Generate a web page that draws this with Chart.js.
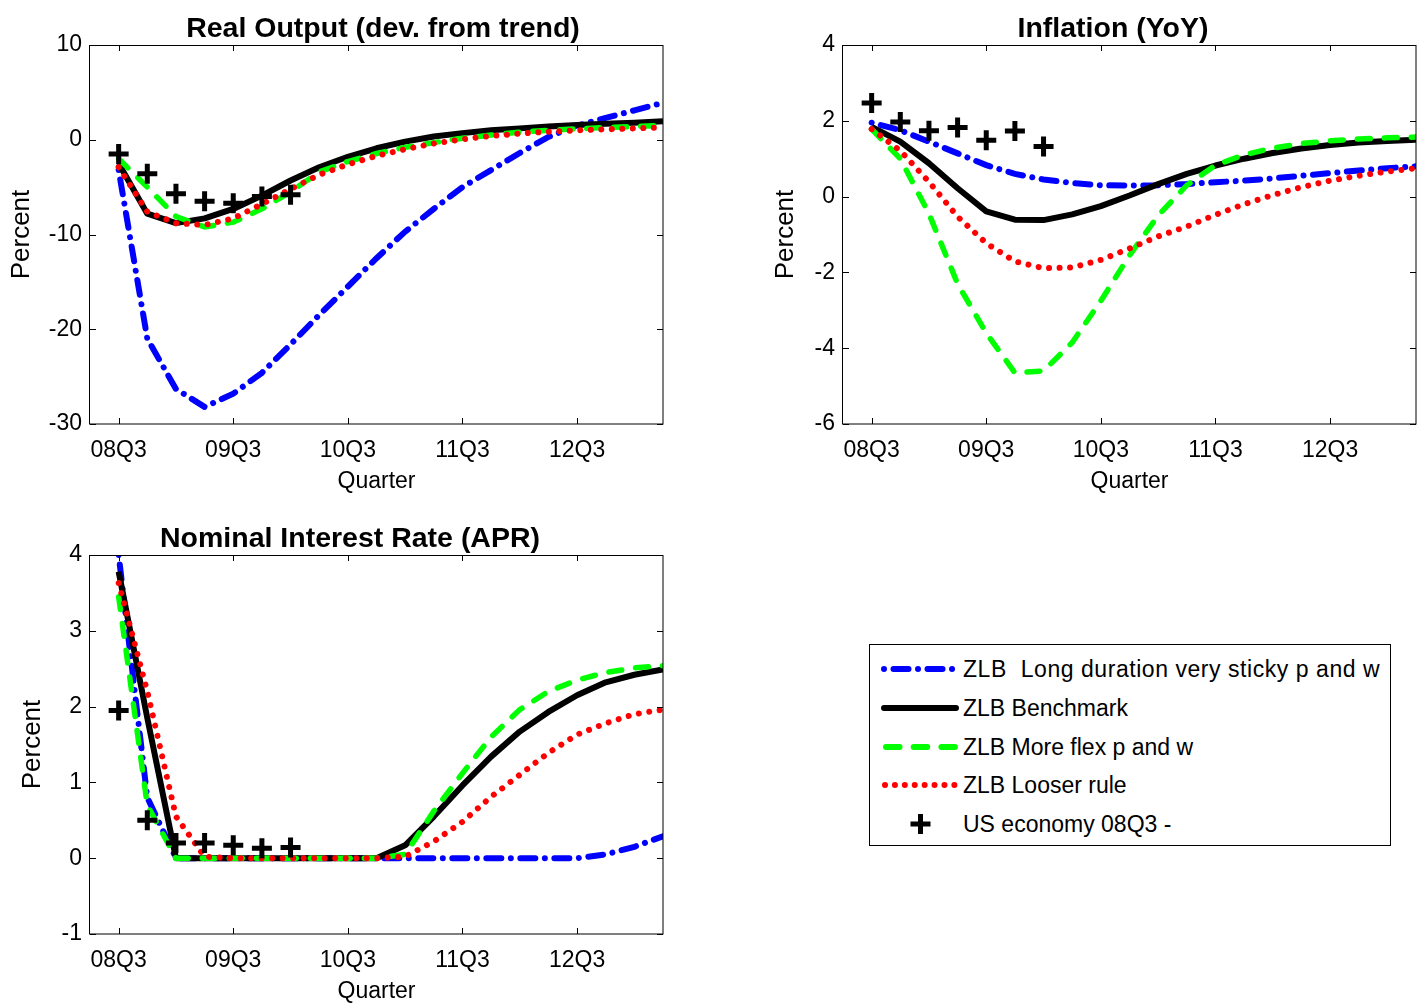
<!DOCTYPE html>
<html>
<head>
<meta charset="utf-8">
<title>ZLB scenarios</title>
<script src="https://cdn.jsdelivr.net/npm/chart.js@4.4.1/dist/chart.umd.min.js"></script>
<style>
  html, body { margin: 0; padding: 0; background: #fff; overflow: hidden; width: 1417px; height: 1005px; }
  canvas.panel { position: absolute; }
  #legend {
    position: absolute; left: 869px; top: 644px; width: 522px; height: 202px;
    border: 1px solid #000; box-sizing: border-box;
    font-family: "Liberation Sans", Arial, sans-serif; font-size: 23px; color: #000;
  }
  #legend .row { position: absolute; left: 0; width: 100%; height: 30px; }
  #legend .row svg { position: absolute; left: 0; top: 0; }
  #legend .row span { position: absolute; left: 93px; top: 0; line-height: 30px; white-space: pre; }
</style>
</head>
<body>
<canvas id="outputChart" class="panel" width="700" height="500" style="left:0px;top:0px"></canvas>
<canvas id="inflationChart" class="panel" width="700" height="500" style="left:753px;top:0px"></canvas>
<canvas id="rateChart" class="panel" width="700" height="500" style="left:0px;top:510px"></canvas>

<div id="legend">
  <div class="row" style="top:9px">
    <svg width="92" height="30"><line x1="14" y1="15" x2="86" y2="15" stroke="#0000ff" stroke-width="6" stroke-linecap="round" stroke-dasharray="0.01 9.5 15 9.5"/></svg>
    <span style="letter-spacing:0.55px">ZLB  Long duration very sticky p and w</span>
  </div>
  <div class="row" style="top:48px">
    <svg width="92" height="30"><line x1="14" y1="15" x2="86" y2="15" stroke="#000" stroke-width="6" stroke-linecap="round"/></svg>
    <span>ZLB Benchmark</span>
  </div>
  <div class="row" style="top:87px">
    <svg width="92" height="30"><line x1="16" y1="15" x2="88" y2="15" stroke="#00ff00" stroke-width="6" stroke-linecap="round" stroke-dasharray="13.5 14.2"/></svg>
    <span>ZLB More flex p and w</span>
  </div>
  <div class="row" style="top:125px">
    <svg width="92" height="30"><line x1="15" y1="15" x2="85" y2="15" stroke="#ff0000" stroke-width="6" stroke-linecap="round" stroke-dasharray="0.01 9.9"/></svg>
    <span>ZLB Looser rule</span>
  </div>
  <div class="row" style="top:164px">
    <svg width="92" height="30"><line x1="40.5" y1="15" x2="60.5" y2="15" stroke="#000" stroke-width="5"/><line x1="50.5" y1="5" x2="50.5" y2="25" stroke="#000" stroke-width="5"/></svg>
    <span>US economy 08Q3 -</span>
  </div>
</div>

<script>
// quarters shown on the x axis, index 0 = 08Q3
const quarters = ['08Q3', '08Q4', '09Q1', '09Q2', '09Q3', '09Q4', '10Q1', '10Q2', '10Q3', '10Q4',
  '11Q1', '11Q2', '11Q3', '11Q4', '12Q1', '12Q2', '12Q3', '12Q4', '13Q1', '13Q2'];
const xTickValues = [0, 4, 8, 12, 16];

// Real output (dev. from trend)
const outSticky = [-3.2, -21.0, -26.3, -28.2, -26.8, -24.6, -21.6, -18.5, -15.5, -12.5, -9.7, -7.3, -5.0, -3.2, -1.4, 0.3, 1.5, 2.3, 3.1, 3.9];
const outBench = [-2.5, -7.8, -8.8, -8.3, -7.3, -5.9, -4.3, -2.9, -1.8, -0.9, -0.2, 0.35, 0.7, 1.0, 1.2, 1.4, 1.55, 1.7, 1.8, 1.95];
const outFlex = [-2.0, -5.0, -8.1, -9.2, -8.7, -7.3, -5.5, -3.4, -2.3, -1.45, -0.8, -0.3, 0.15, 0.5, 0.8, 1.0, 1.15, 1.3, 1.4, 1.5];
const outLoose = [-2.9, -7.6, -8.8, -9.0, -8.3, -6.8, -5.2, -3.7, -2.6, -1.7, -1.0, -0.4, 0.05, 0.4, 0.65, 0.85, 1.0, 1.1, 1.2, 1.3];
const outUS = [-1.5, -3.6, -5.7, -6.5, -6.7, -6.0, -5.8];

// Inflation (YoY)
const infSticky = [1.95, 1.75, 1.45, 1.14, 0.83, 0.6, 0.45, 0.36, 0.3, 0.29, 0.3, 0.33, 0.38, 0.42, 0.48, 0.55, 0.62, 0.69, 0.75, 0.8];
const infBench = [1.84, 1.45, 0.88, 0.22, -0.39, -0.61, -0.62, -0.47, -0.25, 0.03, 0.33, 0.6, 0.82, 1.0, 1.15, 1.27, 1.36, 1.43, 1.47, 1.5];
const infFlex = [1.78, 1.0, -0.45, -2.3, -3.6, -4.65, -4.6, -3.85, -2.75, -1.55, -0.5, 0.3, 0.83, 1.1, 1.28, 1.4, 1.47, 1.52, 1.55, 1.57];
const infLoose = [1.78, 1.21, 0.39, -0.53, -1.23, -1.71, -1.89, -1.87, -1.67, -1.37, -1.05, -0.79, -0.48, -0.2, 0.04, 0.25, 0.42, 0.55, 0.66, 0.75];
const infUS = [2.47, 1.97, 1.74, 1.82, 1.49, 1.73, 1.32];

// Nominal interest rate (APR)
const rateSticky = [4.0, 0.8, 0, 0, 0, 0, 0, 0, 0, 0, 0, 0, 0, 0, 0, 0, 0, 0.05, 0.15, 0.29];
const rateBench = [3.78, 1.85, 0, 0, 0, 0, 0, 0, 0, 0, 0.17, 0.55, 0.96, 1.34, 1.67, 1.93, 2.15, 2.32, 2.42, 2.49];
const rateFlex = [3.45, 0.7, 0, 0, 0, 0, 0, 0, 0, 0, 0.05, 0.62, 1.12, 1.6, 1.96, 2.2, 2.35, 2.45, 2.51, 2.54];
const rateLoose = [3.63, 2.2, 0.55, 0.02, 0, 0, 0, 0, 0, 0, 0.02, 0.22, 0.48, 0.81, 1.1, 1.39, 1.63, 1.78, 1.9, 1.96];
const rateUS = [1.95, 0.5, 0.2, 0.2, 0.17, 0.13, 0.14];

const FONT = '"Liberation Sans", Arial, sans-serif';
Chart.defaults.font.family = FONT;
Chart.defaults.color = '#000';

function pts(arr) {
  return arr.map((v, i) => ({ x: i, y: v }));
}

// matlab-ish box: frame, inward ticks on all sides, title text
const matlabAxes = {
  id: 'matlabAxes',
  afterDatasetsDraw(chart, args, opts) {
    const { ctx, chartArea, scales } = chart;
    const { left, right, top, bottom } = chartArea;
    ctx.save();
    ctx.strokeStyle = '#000';
    ctx.lineWidth = 1;
    ctx.beginPath();
    scales.x.ticks.forEach(t => {
      const px = Math.round(scales.x.getPixelForValue(t.value)) + 0.5;
      ctx.moveTo(px, bottom); ctx.lineTo(px, bottom - 6);
      ctx.moveTo(px, top); ctx.lineTo(px, top + 6);
    });
    scales.y.ticks.forEach(t => {
      const py = Math.round(scales.y.getPixelForValue(t.value)) + 0.5;
      ctx.moveTo(left, py); ctx.lineTo(left + 6, py);
      ctx.moveTo(right, py); ctx.lineTo(right - 6, py);
    });
    ctx.stroke();
    ctx.strokeRect(Math.round(left) - 0.5, Math.round(top) + 0.5, Math.round(right - left) + 0.5, Math.round(bottom - top) - 0.5);

    ctx.fillStyle = '#000';
    ctx.font = 'bold 28.5px ' + FONT;
    ctx.textAlign = 'center';
    ctx.textBaseline = 'alphabetic';
    ctx.fillText(opts.text, opts.x, opts.baseline);
    ctx.restore();
  }
};

function makeDatasets(sticky, bench, flex, loose, us) {
  // first dataset ends up on top
  return [
    {
      label: 'US economy 08Q3 -', data: pts(us), showLine: false,
      pointStyle: 'cross', pointRadius: 10, pointBorderWidth: 5,
      pointBorderColor: '#000', borderColor: '#000'
    },
    {
      label: 'ZLB Looser rule', data: pts(loose), borderColor: '#ff0000', borderWidth: 6,
      borderDash: [0.01, 10.5], borderCapStyle: 'round', pointRadius: 0
    },
    {
      label: 'ZLB More flex p and w', data: pts(flex), borderColor: '#00ff00', borderWidth: 5.5,
      borderDash: [13, 14], borderCapStyle: 'round', pointRadius: 0
    },
    {
      label: 'ZLB Benchmark', data: pts(bench), borderColor: '#000000', borderWidth: 6,
      borderJoinStyle: 'round', pointRadius: 0
    },
    {
      label: 'ZLB  Long duration very sticky p and w', data: pts(sticky), borderColor: '#0000ff', borderWidth: 6,
      borderDash: [0.01, 9.5, 15, 9.5], borderCapStyle: 'round', pointRadius: 0
    }
  ];
}

function makeChart(id, cfg) {
  const ctx = document.getElementById(id);
  return new Chart(ctx, {
    type: 'line',
    data: { datasets: makeDatasets(cfg.sticky, cfg.bench, cfg.flex, cfg.loose, cfg.us) },
    plugins: [matlabAxes],
    options: {
      responsive: false,
      animation: false,
      clip: 0,
      layout: { padding: { top: 45, right: 37, left: 0, bottom: 0 } },
      plugins: {
        legend: { display: false },
        tooltip: { enabled: false },
        matlabAxes: { text: cfg.title, x: cfg.titleX, baseline: 37 }
      },
      scales: {
        x: {
          type: 'linear', min: -1, max: 19,
          afterBuildTicks: s => { s.ticks = xTickValues.map(v => ({ value: v })); },
          afterFit: s => { s.height = 76; },
          grid: { display: false, drawTicks: false },
          border: { display: false },
          ticks: {
            padding: 13, maxRotation: 0, autoSkip: false, color: '#000',
            font: { size: 23 },
            callback: v => quarters[v]
          },
          title: { display: true, text: 'Quarter', color: '#000', font: { size: 23 }, padding: { top: 0, bottom: 5 } }
        },
        y: {
          min: cfg.yMin, max: cfg.yMax,
          afterFit: s => { s.width = 90; },
          grid: { display: false, drawTicks: false },
          border: { display: false },
          ticks: { stepSize: cfg.yStep, padding: 8, color: '#000', font: { size: 23 } },
          title: { display: true, text: 'Percent', color: '#000', font: { size: 26 }, padding: { top: cfg.percentPad, bottom: 0 } }
        }
      }
    }
  });
}

makeChart('outputChart', {
  title: 'Real Output (dev. from trend)', titleX: 383,
  yMin: -30, yMax: 10, yStep: 10, percentPad: 6,
  sticky: outSticky, bench: outBench, flex: outFlex, loose: outLoose, us: outUS
});

makeChart('inflationChart', {
  title: 'Inflation (YoY)', titleX: 360,
  yMin: -6, yMax: 4, yStep: 2, percentPad: 17,
  sticky: infSticky, bench: infBench, flex: infFlex, loose: infLoose, us: infUS
});

makeChart('rateChart', {
  title: 'Nominal Interest Rate (APR)', titleX: 350,
  yMin: -1, yMax: 4, yStep: 1, percentPad: 17,
  sticky: rateSticky, bench: rateBench, flex: rateFlex, loose: rateLoose, us: rateUS
});
</script>
</body>
</html>
